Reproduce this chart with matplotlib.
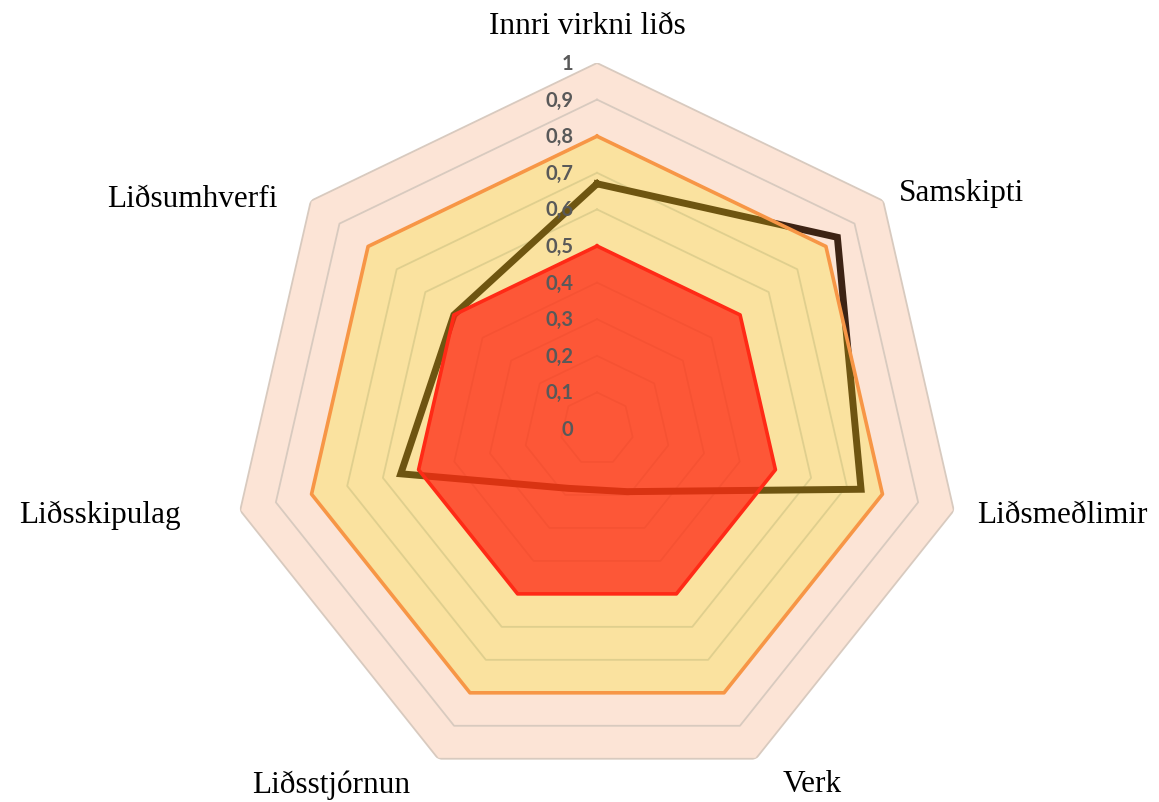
import numpy as np
import matplotlib.pyplot as plt

categories = ['Innri virkni liðs', 'Samskipti', 'Liðsmeðlimir', 'Verk',
              'Liðsstjórnun', 'Liðsskipulag', 'Liðsumhverfi']
score = [0.67, 0.84, 0.74, 0.19, 0.18, 0.55, 0.50]
band_low = [0.5, 0.5, 0.5, 0.5, 0.5, 0.5, 0.5]
band_mid = [0.8, 0.8, 0.8, 0.8, 0.8, 0.8, 0.8]
band_max = [1, 1, 1, 1, 1, 1, 1]
tick_values = [0, 0.1, 0.2, 0.3, 0.4, 0.5, 0.6, 0.7, 0.8, 0.9, 1]
tick_labels = ['0', '0,1', '0,2', '0,3', '0,4', '0,5', '0,6', '0,7', '0,8', '0,9', '1']

# label offsets in points (dx, dy, ha)
label_pos = [(-7, 27, 'center'), (11, 6, 'left'), (17, -3, 'left'), (19, -18, 'left'),
             (-20, -18, 'right'), (-43, -3, 'right'), (-24, 2, 'right')]

n = len(categories)
theta = np.linspace(0, 2 * np.pi, n, endpoint=False)
th = np.append(theta, theta[0])

def closed(vals):
    return np.append(vals, vals[0])

fig = plt.figure(figsize=(11.59, 8.03), dpi=100)
ax = fig.add_axes([231 / 1159, 7 / 803, 732 / 1159, 732 / 803], projection='polar')
ax.set_theta_offset(np.pi / 2)
ax.set_theta_direction(-1)
ax.set_ylim(0, 1)
ax.grid(False)
ax.spines['polar'].set_visible(False)
ax.set_xticks([])
ax.set_yticks([])
ax.patch.set_alpha(0)

# outer band
ax.fill(th, closed(band_max), color='#FCE4D6', zorder=1, lw=0)

# polygon grid
for t in tick_values[1:]:
    ax.plot(th, closed([t] * n), color='#D8CABF', lw=1.3, zorder=2)

# data line, underneath the translucent bands
ax.plot(th, closed(score), color='#3D2314', lw=5, zorder=3, solid_joinstyle='miter')

ax.fill(th, closed(band_mid), color='#F5DD0B', alpha=0.27, lw=0, zorder=4)
ax.plot(th, closed(band_mid), color='#F79646', lw=2.6, zorder=5)

ax.fill(th, closed(band_low), color='#FF2713', alpha=0.74, lw=0, zorder=6)
ax.plot(th, closed(band_low), color='#FF2A16', lw=2.6, zorder=7)

for v, lab in zip(tick_values, tick_labels):
    ax.annotate(lab, xy=(0, v), xytext=(-17, 0), textcoords='offset points',
                ha='right', va='center', fontsize=14.5, fontweight='bold',
                color='#595959', family='Lato', zorder=8)

for t, lab, (dx, dy, ha) in zip(theta, categories, label_pos):
    ax.annotate(lab, xy=(t, 1), xytext=(dx, dy), textcoords='offset points',
                ha=ha, va='center', fontsize=22.5, family='Liberation Serif',
                color='black', annotation_clip=False)

fig.savefig('out.png', dpi=100)
